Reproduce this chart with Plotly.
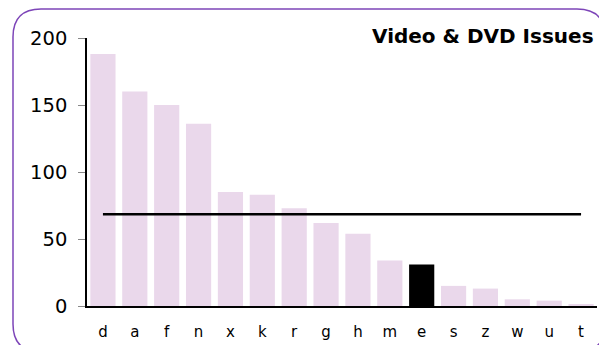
import plotly.graph_objects as go

categories = ["d", "a", "f", "n", "x", "k", "r", "g", "h", "m", "e", "s", "z", "w", "u", "t"]
values = [188, 160, 150, 136, 85, 83, 73, 62, 54, 34, 31, 15, 13, 5, 4, 1]
highlight = "e"
average_value = 68.5
y_ticks = [0, 50, 100, 150, 200]
title_text = "Video & DVD Issues"

# page body has an 8px margin, so the figure is sized/positioned to compensate
OFF = 8
W, H = 607 - OFF, 345 - OFF
L, R, T = 87 - OFF, 10, 38 - OFF
B = H - (306 - OFF)
pw, ph = W - L - R, H - T - B

bar_color = "#ead8eb"
bar_colors = ["#000000" if c == highlight else bar_color for c in categories]

fig = go.Figure()
fig.add_trace(go.Bar(x=categories, y=values, marker=dict(color=bar_colors, line=dict(width=0)),
                     hoverinfo="x+y"))
fig.add_trace(go.Scatter(x=[categories[0], categories[-1]], y=[average_value, average_value],
                         mode="lines", line=dict(color="black", width=2.5), hoverinfo="skip"))


def px_to_paper(x, y):
    # x, y are window pixel coordinates
    x -= OFF
    y -= OFF
    return (x - L) / pw, (H - B - y) / ph


def rounded_rect_path(x0, y0, x1, y1, r):
    def P(x, y):
        a, b = px_to_paper(x, y)
        return f"{a:.5f},{b:.5f}"
    d = f"M {P(x0 + r, y0)} L {P(x1 - r, y0)} Q {P(x1, y0)} {P(x1, y0 + r)} "
    d += f"L {P(x1, y1 - r)} Q {P(x1, y1)} {P(x1 - r, y1)} "
    d += f"L {P(x0 + r, y1)} Q {P(x0, y1)} {P(x0, y1 - r)} "
    d += f"L {P(x0, y0 + r)} Q {P(x0, y0)} {P(x0 + r, y0)} Z"
    return d


fig.add_shape(type="path", xref="paper", yref="paper",
              path=rounded_rect_path(13, 9, 605, 352, 28),
              line=dict(color="#7d45b8", width=1.5), layer="below")

tx, ty = px_to_paper(596, 36)
fig.update_layout(
    width=W, height=H,
    margin=dict(l=L, r=R, t=T, b=B, autoexpand=False),
    paper_bgcolor="white", plot_bgcolor="white",
    showlegend=False, bargap=0.21,
    font=dict(family="Verdana, DejaVu Sans, sans-serif", color="black"),
    annotations=[dict(text="<b>" + title_text + "</b>", xref="paper", yref="paper",
                      x=tx, y=ty, xanchor="right", yanchor="middle",
                      showarrow=False, font=dict(size=20, family="DejaVu Sans, Verdana"))],
)
fig.update_xaxes(type="category", range=[-0.5, len(categories) - 0.5], showline=True,
                 linecolor="black", linewidth=1.5, ticks="", showgrid=False, automargin=False,
                 tickfont=dict(size=15), ticklabelstandoff=11)
fig.update_yaxes(range=[0, 200], tickvals=y_ticks, showline=True, linecolor="black", linewidth=1.5,
                 ticks="outside", ticklen=7, tickcolor="#888888", showgrid=False, zeroline=False,
                 automargin=False, tickfont=dict(size=19.5), ticklabelstandoff=7)

fig.write_html("out.html")
